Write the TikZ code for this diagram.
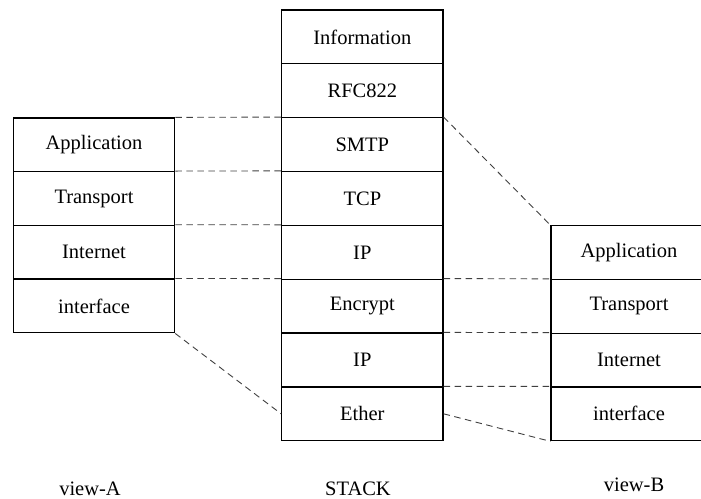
\documentclass[tikz,border=0pt]{standalone}
\usepackage{fontspec}
\setmainfont{Liberation Serif}
\begin{document}
\begin{tikzpicture}[x=1pt,y=-1pt,
  cell/.style={draw=black,line width=1.2pt,rectangle,inner sep=0pt,
    minimum width=161.3pt,minimum height=53.8pt,
    font=\fontsize{20.5}{24}\selectfont},
  rcell/.style={cell,minimum width=156pt},
  link/.style={draw=black!75,line width=0.9pt,dash pattern=on 6.5pt off 4.5pt},
  caption/.style={anchor=base,inner sep=0pt,font=\fontsize{20.5}{24}\selectfont}]
\useasboundingbox (0,0) rectangle (701,498);
\clip (0,0) rectangle (701,498);
% center stack
\node[cell] (c1) at (362.35,36.9) {Information};
\node[cell] (c2) at (362.35,90.7) {RFC822};
\node[cell] (c3) at (362.35,144.6) {SMTP};
\node[cell] (c4) at (362.35,198.4) {TCP};
\node[cell] (c5) at (362.35,252.3) {IP};
\node[cell] (c6) at (362.35,306.1) {Encrypt};
\node[cell] (c7) at (362.35,359.9) {IP};
\node[cell] (c8) at (362.35,413.8) {Ether};
% left stack
\node[cell] (l1) at (94,144.85) {Application};
\node[cell] (l2) at (94,198.55) {Transport};
\node[cell] (l3) at (94,252.25) {Internet};
\node[cell] (l4) at (94,305.95) {interface};
% right stack
\node[rcell] (r1) at (629,252.6) {Application};
\node[rcell] (r2) at (629,306.35) {Transport};
\node[rcell] (r3) at (629,360.1) {Internet};
\node[rcell] (r4) at (629,413.85) {interface};
% dashed connectors
\draw[link] (l1.north east) -- (c3.north west);
\draw[link] (l2.north east) -- (c4.north west);
\draw[link] (l3.north east) -- (c5.north west);
\draw[link] (l4.north east) -- (c6.north west);
\draw[link] (c6.north east) -- (r2.north west);
\draw[link] (l4.south east) -- (c8.west);
\draw[link] (c3.north east) -- (r1.north west);
\draw[link] (c7.north east) -- (r3.north west);
\draw[link] (c8.north east) -- (r4.north west);
\draw[link] (c8.east) -- (r4.south west);
% captions
\node[caption] (ca) at (90,495) {view-A};
\node[caption] (cs) at (358,495) {STACK};
\node[caption] (cb) at (634,491) {view-B};
\end{tikzpicture}
\end{document}
